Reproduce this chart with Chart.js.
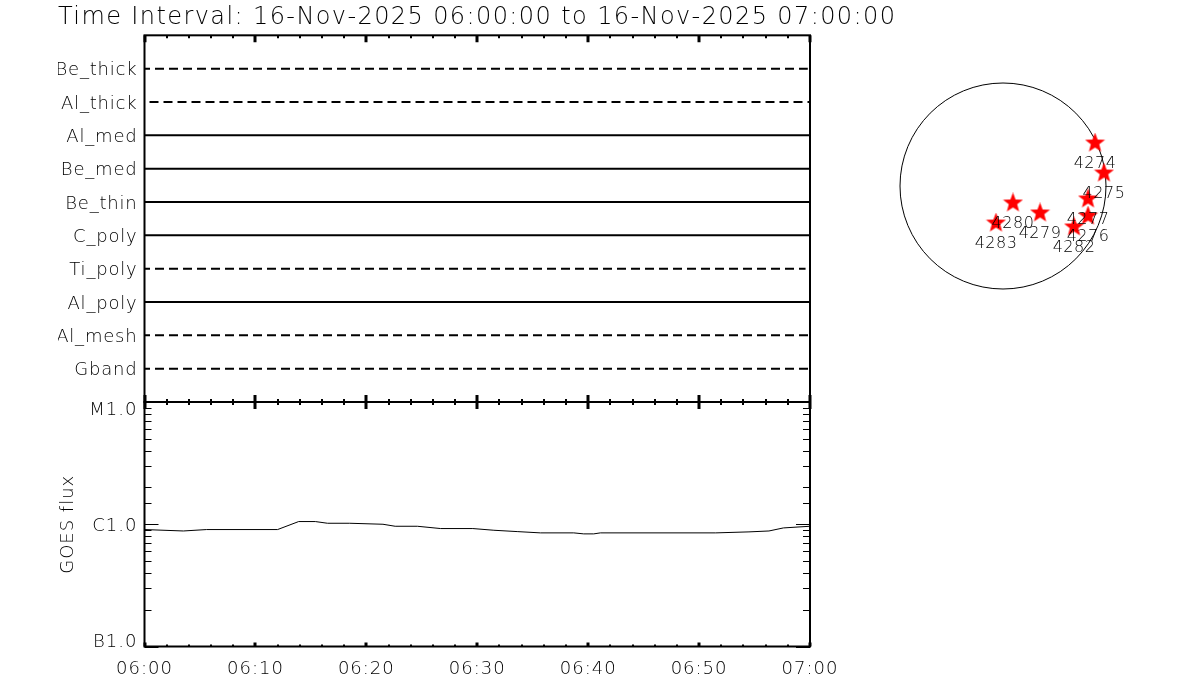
<!DOCTYPE html>
<html><head><meta charset="utf-8">
<script src="https://cdn.jsdelivr.net/npm/chart.js@4"></script>
<style>html,body{margin:0;background:#fff;overflow:hidden}canvas{position:absolute;display:block}</style>
</head><body>
<canvas id="top" style="left:0px;top:0px" width="920" height="410"></canvas>
<canvas id="goes" style="left:0px;top:395px" width="900" height="305"></canvas>
<canvas id="sun" style="left:853px;top:69px" width="300" height="234"></canvas>
<script>
const titleText = 'Time Interval: 16-Nov-2025 06:00:00 to 16-Nov-2025 07:00:00';
const instruments = ['Gband','Al_mesh','Al_poly','Ti_poly','C_poly','Be_thin','Be_med','Al_med','Al_thick','Be_thick'];
const coverageStart = [0,0,0,0,0,0,0,0,0,0];
const coverageEnd = [60,60,60,59.6,60,60,60,60,60,59.8];
const dashedInstruments = ['Gband','Al_mesh','Ti_poly','Al_thick','Be_thick'];
const timeLabels = ['06:00','06:10','06:20','06:30','06:40','06:50','07:00'];
const goesMinutes = [0,3.5,5.6,12,13.9,15.4,16.5,18.5,21.5,22.6,24.6,26.7,29.6,31.5,33.6,35.7,38.7,39.6,40.5,41.1,51.5,54.5,56.3,57.6,60];
const goesFlux = [9.05e-7,8.81e-7,9.05e-7,9.05e-7,10.52e-7,10.52e-7,10.19e-7,10.19e-7,10.0e-7,9.63e-7,9.63e-7,9.22e-7,9.22e-7,8.93e-7,8.71e-7,8.5e-7,8.5e-7,8.34e-7,8.34e-7,8.5e-7,8.5e-7,8.66e-7,8.81e-7,9.33e-7,9.63e-7];
const goesClasses = {'-7':'B1.0','-6':'C1.0','-5':'M1.0'};
const regionNames = ['4274','4275','4277','4276','4282','4279','4280','4283'];
const regionX = [867,951,801,801,669,349,94,-66];
const regionY = [405,122,-122,-283,-386,-254,-160,-349];

const FONT = '"DejaVu Sans"';
const INK = '#000';
function spacing(px,titlePx){return {id:'spacing',
  beforeLayout(c){c.ctx.letterSpacing=px;
    const tb=c.titleBlock;
    if(tb&&titlePx&&!tb._wrapped){const d=tb.draw;tb._wrapped=true;tb.draw=function(){
      const k=c.ctx.letterSpacing,r=this.right;c.ctx.letterSpacing=titlePx;this.right=r+200;d.call(this);this.right=r;c.ctx.letterSpacing=k;};}
  },
  beforeDraw(c){c.ctx.letterSpacing=px}};}

function timeLabel(v){return v%10===0?timeLabels[v/10]:'';}
function noEdgePadding(s){s.paddingTop=0;s.paddingBottom=0;}

function frame(tickTop,tickBottom,withY){return {id:'frame',afterDatasetsDraw(c){
  const {ctx,chartArea:a,scales}=c,x=scales.x,y=scales.y;
  ctx.save();ctx.strokeStyle=INK;
  ctx.lineWidth=2;ctx.strokeRect(a.left,a.top,a.right-a.left,a.bottom-a.top);
  for(const t of x.ticks){
    const p=Math.round(x.getPixelForValue(t.value)),maj=t.value%10===0;
    ctx.lineWidth=maj?3:2;
    ctx.beginPath();ctx.moveTo(p,a.top);ctx.lineTo(p,a.top+(maj?tickTop[0]:tickTop[1]));
    ctx.moveTo(p,a.bottom);ctx.lineTo(p,a.bottom-(maj?tickBottom[0]:tickBottom[1]));ctx.stroke();
  }
  if(withY){ctx.lineWidth=1;
    for(const t of y.ticks){
      const p=Math.round(y.getPixelForValue(t.value))+.5,l=Math.log10(t.value),maj=Math.abs(l-Math.round(l))<1e-6,len=maj?14:7;
      ctx.beginPath();ctx.moveTo(a.left,p);ctx.lineTo(a.left+len,p);ctx.moveTo(a.right,p);ctx.lineTo(a.right-len,p);ctx.stroke();
    }
  }
  ctx.restore();
}};}

const noGrid={display:false,drawTicks:false};
const xBase={type:'linear',min:0,max:60,grid:noGrid,border:{display:false}};
const tickX={stepSize:2,autoSkip:false,maxRotation:0};

new Chart(document.getElementById('top'),{
  type:'line',
  data:{datasets:instruments.map((n,i)=>({
    label:n,
    data:[{x:coverageStart[i],y:i+1},{x:coverageEnd[i],y:i+1}],
    borderColor:INK,borderWidth:2,pointRadius:0,
    borderDash:dashedInstruments.includes(n)?[9,5]:[],
    borderDashOffset:n==='Al_thick'?9:3.5
  }))},
  options:{responsive:false,animation:false,
    layout:{autoPadding:false,padding:{left:58,right:110,top:0,bottom:8}},
    plugins:{legend:{display:false},tooltip:{enabled:false},
      title:{display:true,text:titleText,align:'start',color:INK,padding:{top:4,bottom:3},font:{family:FONT,size:24,weight:'200',lineHeight:1.18}}},
    scales:{
      x:{...xBase,display:true,ticks:{...tickX,display:false},afterFit(s){s.height=0}},
      y:{type:'linear',min:0,max:11,grid:noGrid,border:{display:false},
        afterBuildTicks(s){s.ticks=instruments.map((_,i)=>({value:i+1}))},
        afterFit(s){s.width=86.5;noEdgePadding(s)},
        ticks:{color:INK,padding:7,labelOffset:2,font:{family:FONT,size:18,weight:'200'},autoSkip:false,callback:v=>instruments[v-1]||''}}
    }
  },
  plugins:[spacing('0.8px','1.4px'),frame([7,3],[7,3],false)]
});

new Chart(document.getElementById('goes'),{
  type:'line',
  data:{datasets:[{label:'GOES flux',data:goesMinutes.map((m,i)=>({x:m,y:goesFlux[i]})),borderColor:INK,borderWidth:1,pointRadius:0,tension:0}]},
  options:{responsive:false,animation:false,
    layout:{autoPadding:false,padding:{left:58,right:90,top:7,bottom:0}},
    plugins:{legend:{display:false},tooltip:{enabled:false},title:{display:false}},
    scales:{
      x:{...xBase,ticks:{...tickX,color:INK,padding:12,font:{family:FONT,size:18,weight:'200'},callback:timeLabel},afterFit(s){s.height=53.5}},
      y:{type:'logarithmic',min:1e-7,max:1e-5,grid:noGrid,border:{display:false},
        afterFit(s){s.width=86.5;noEdgePadding(s)},
        title:{display:true,text:'GOES flux',color:INK,padding:0,font:{family:FONT,size:18,weight:'200'}},
        ticks:{color:INK,padding:7,labelOffset:2,autoSkip:false,font:{family:FONT,size:18,weight:'200',lineHeight:.7},
          callback(v){const l=Math.log10(v),r=Math.round(l);if(Math.abs(l-r)>1e-6)return '';const s=goesClasses[r];return r===-5?['',s]:r===-7?[s,'']:s;}}}
    }
  },
  plugins:[spacing('1px'),frame([7,3],[4,2],true)]
});

function starSprite(size){
  const s=document.createElement('canvas');s.width=s.height=size;
  const g=s.getContext('2d'),c=size/2,R=size/2,r=R*.42;
  g.fillStyle='#ff0000';g.beginPath();
  for(let i=0;i<10;i++){const a=-Math.PI/2+i*Math.PI/5,q=i%2?r:R;g.lineTo(c+q*Math.cos(a),c+q*Math.sin(a));}
  g.closePath();g.fill();return s;
}
new Chart(document.getElementById('sun'),{
  type:'scatter',
  data:{datasets:[
    {label:'Regions',data:regionX.map((x,i)=>({x,y:regionY[i]})),pointStyle:starSprite(21),pointRadius:10},
    {label:'Limb',data:[{x:0,y:0}],pointStyle:'circle',pointRadius:103,backgroundColor:'rgba(0,0,0,0)',borderColor:INK,borderWidth:1}
  ]},
  options:{responsive:false,animation:false,layout:{autoPadding:false,padding:0},
    plugins:{legend:{display:false},tooltip:{enabled:false}},
    scales:{x:{type:'linear',display:false,min:-1413,max:1413},y:{type:'linear',display:false,min:-1102,max:1102}}
  },
  plugins:[{id:'regionLabels',afterDatasetsDraw(c){
    const {ctx,scales}=c;ctx.save();ctx.fillStyle=INK;ctx.font='200 16px '+FONT;ctx.letterSpacing='0.5px';ctx.textAlign='center';ctx.textBaseline='middle';
    regionNames.forEach((n,i)=>ctx.fillText(n,scales.x.getPixelForValue(regionX[i]),scales.y.getPixelForValue(regionY[i])+21));
    ctx.restore();
  }}]
});
</script>
</body></html>
